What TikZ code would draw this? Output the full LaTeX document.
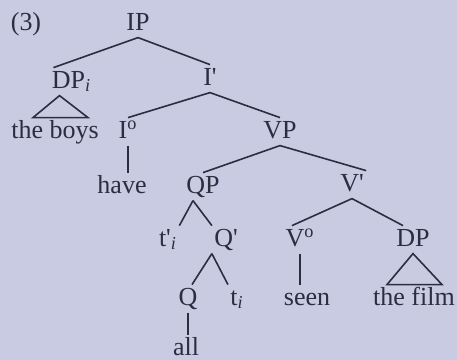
\documentclass[tikz,border=0pt]{standalone}
\usepackage{fontspec}
\setmainfont{Liberation Serif}
\definecolor{paper}{RGB}{200,203,225}
\definecolor{ink}{RGB}{45,45,65}
\newcommand{\pr}{\textquotesingle}
\newcommand{\ix}{\textsubscript{\textit{i}}}
\newcommand{\hd}{\textsuperscript{o}}
\tikzset{
  lbl/.style={anchor=base, inner sep=1pt, text height=9pt, text depth=2.6pt,
    text=ink, font=\fontsize{13}{15}\selectfont},
  branch/.style={draw=ink, line width=.8pt}
}
\begin{document}
\begin{tikzpicture}[x=.5pt,y=-.5pt]
      \fill[paper] (0,0) rectangle (457,360);
      \useasboundingbox (0,0) rectangle (457,360);
      \draw
        (26,30) node[lbl] (ex){(3)}
        (138,30) node[lbl] (IP){IP}
        (71.5,88) node[lbl] (DPi){DP\ix}
        (210,85) node[lbl] (Ibar){I\pr}
        (55,138) node[lbl] (boys){the boys}
        (128,138) node[lbl] (Io){I\hd}
        (122,193) node[lbl] (have){have}
        (280,138) node[lbl] (VP){VP}
        (203,193) node[lbl] (QP){QP}
        (352,191) node[lbl] (Vbar){V\pr}
        (168,246) node[lbl] (tpr){t\pr\ix}
        (226,246) node[lbl] (Qbar){Q\pr}
        (300,246) node[lbl] (Vo){V\hd}
        (413,246) node[lbl] (DP){DP}
        (188,305) node[lbl] (Q){Q}
        (237,305) node[lbl] (ti){t\ix}
        (307,305) node[lbl] (seen){seen}
        (414,305) node[lbl] (film){the film}
        (186,355) node[lbl] (all){all};
      \begin{scope}[branch]
        \draw (IP.south) to ([xshift=2pt]DPi.north west);
        \draw (IP.south) to (Ibar.north);
        \draw ([xshift=-6pt]DPi.south) to ([xshift=-11pt]boys.north)
          to ([xshift=16.5pt]boys.north) to cycle;
        \draw (Ibar.south) to (Io.north);
        \draw (Ibar.south) to (VP.north);
        \draw (Io.south) to (Io.south |- have.north);
        \draw (VP.south) to (QP.north);
        \draw (VP.south) to (Vbar.north east);
        \draw ([xshift=-5pt]QP.south) to (tpr.north east);
        \draw ([xshift=-5pt]QP.south) to (Qbar.north west);
        \draw (Qbar.south west) to ([xshift=2pt]Q.north);
        \draw (Qbar.south west) to (ti.north west);
        \draw (Q.south) to (Q.south |- all.north);
        \draw (Vbar.south) to ([xshift=-4pt]Vo.north);
        \draw (Vbar.south) to ([xshift=-5pt]DP.north);
        \draw (Vo.south) to (Vo.south |- seen.north);
        \draw (DP.south) to ([xshift=-13.5pt]film.north)
          to ([xshift=14pt]film.north) to cycle;
      \end{scope}
    \end{tikzpicture}
\end{document}
